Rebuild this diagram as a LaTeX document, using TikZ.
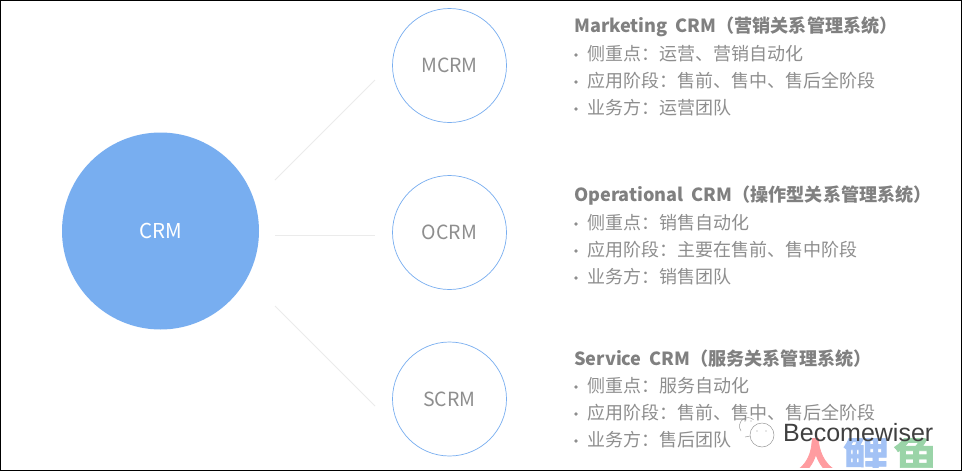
\documentclass[tikz,border=0pt]{standalone}
\usepackage{fontspec}
\setmainfont{Noto Sans CJK SC}
\newfontfamily\cjk{Noto Sans CJK SC}
\newfontfamily\cjkb[FakeBold=1.5]{Noto Sans CJK SC Bold}
\newfontfamily\wmf{Liberation Sans}
\definecolor{txt}{HTML}{8E8E8E}
\definecolor{ttl}{HTML}{808080}
\definecolor{cblue}{HTML}{78AEF0}
\definecolor{lnk}{HTML}{EBEBEB}
\definecolor{lred}{HTML}{FF9CA0}
\definecolor{lblue}{HTML}{A3C2F5}
\definecolor{lgreen}{HTML}{9AD4A8}
\tikzset{
  big/.style={circle,fill=cblue,minimum size=197pt,inner sep=0pt,text=white,font=\fontsize{20.5}{20}\selectfont},
  small/.style={circle,draw=cblue,line width=0.7pt,minimum size=114pt,inner sep=0pt,text=txt,font=\fontsize{19.5}{20}\selectfont},
  link/.style={draw=lnk,line width=0.8pt},
  head/.style={anchor=west,inner sep=0pt,text=ttl,font=\fontsize{18.1}{18}\selectfont\bfseries},
  item/.style={anchor=west,inner sep=0pt,text=txt,font=\cjk\fontsize{18}{18}\selectfont},
  dotb/.style={circle,fill=txt,minimum size=3.6pt,inner sep=0pt},
  logo/.style={anchor=center,inner sep=0pt,font=\cjkb\fontsize{46}{46}\selectfont},
  wx/.style={draw=black!40,line width=0.5pt},
}
\begin{document}
\begin{tikzpicture}[x=1pt,y=-1pt]
\useasboundingbox (0,0) rectangle (962,472);
\fill[white] (0,0) rectangle (962,472);
\node[big] (crm) at (160.5,231) {CRM};
\node[small] (m) at (449.5,65.5) {MCRM};
\node[small] (o) at (449.5,232.5) {OCRM};
\node[small] (s) at (449.5,399) {SCRM};
\coordinate (a1) at (275,180); \coordinate (a2) at (375,80);
\coordinate (b1) at (275,235); \coordinate (b2) at (375,235);
\coordinate (c1) at (275,306); \coordinate (c2) at (375,406);
\draw[link] (a1) -- (a2);
\draw[link] (b1) -- (b2);
\draw[link] (c1) -- (c2);
% group 1
\node[head] (h1) at (574,27) {Marketing\hspace{8pt}CRM（营销关系管理系统）};
\node[dotb] (d11) at (576,55) {}; \node[item] (t11) at (587.5,54) {侧重点：运营、营销自动化};
\node[dotb] (d12) at (576,82) {}; \node[item] (t12) at (587.5,81) {应用阶段：售前、售中、售后全阶段};
\node[dotb] (d13) at (576,109) {}; \node[item] (t13) at (587.5,108) {业务方：运营团队};
% group 2
\node[head] (h2) at (574,196) {Operational\hspace{8pt}CRM（操作型关系管理系统）};
\node[dotb] (d21) at (576,224) {}; \node[item] (t21) at (587.5,223) {侧重点：销售自动化};
\node[dotb] (d22) at (576,251) {}; \node[item] (t22) at (587.5,250) {应用阶段：主要在售前、售中阶段};
\node[dotb] (d23) at (576,278) {}; \node[item] (t23) at (587.5,277) {业务方：销售团队};
% group 3
\node[head] (h3) at (574,359) {Service\hspace{8pt}CRM（服务关系管理系统）};
\node[dotb] (d31) at (576,387) {}; \node[item] (t31) at (587.5,386) {侧重点：服务自动化};
\node[dotb] (d32) at (576,414) {}; \node[item] (t32) at (587.5,413) {应用阶段：售前、售中、售后全阶段};
\node[dotb] (d33) at (576,441) {}; \node[item] (t33) at (587.5,440) {业务方：售后团队};
% watermark
\begin{scope}
\clip (780,438) rectangle (950,467);
\node[logo,text=lred] (w1) at (816,455) {人};
\node[logo,text=lblue] (w2) at (866,455) {鲤};
\node[logo,text=lgreen] (w3) at (916,455) {鱼};
\end{scope}
\draw[wx] (762,435) circle (12pt);
\draw[wx] (750,436) -- (745,437);
\draw[wx] (741,431) arc[start angle=215,end angle=50,radius=8.5pt];
\fill[black!40] (757,431) circle (0.7pt) (766,431) circle (0.7pt) (745,421) circle (0.6pt) (751,421) circle (0.6pt);
\node[anchor=west,inner sep=0pt,text=black!75,font=\wmf\fontsize{25}{25}\selectfont] (wm) at (783,433) {Becomewiser};
% frame
\draw[black,line width=1.6pt] (0.5,0.5) rectangle (961.5,470.5);
\end{tikzpicture}
\end{document}
